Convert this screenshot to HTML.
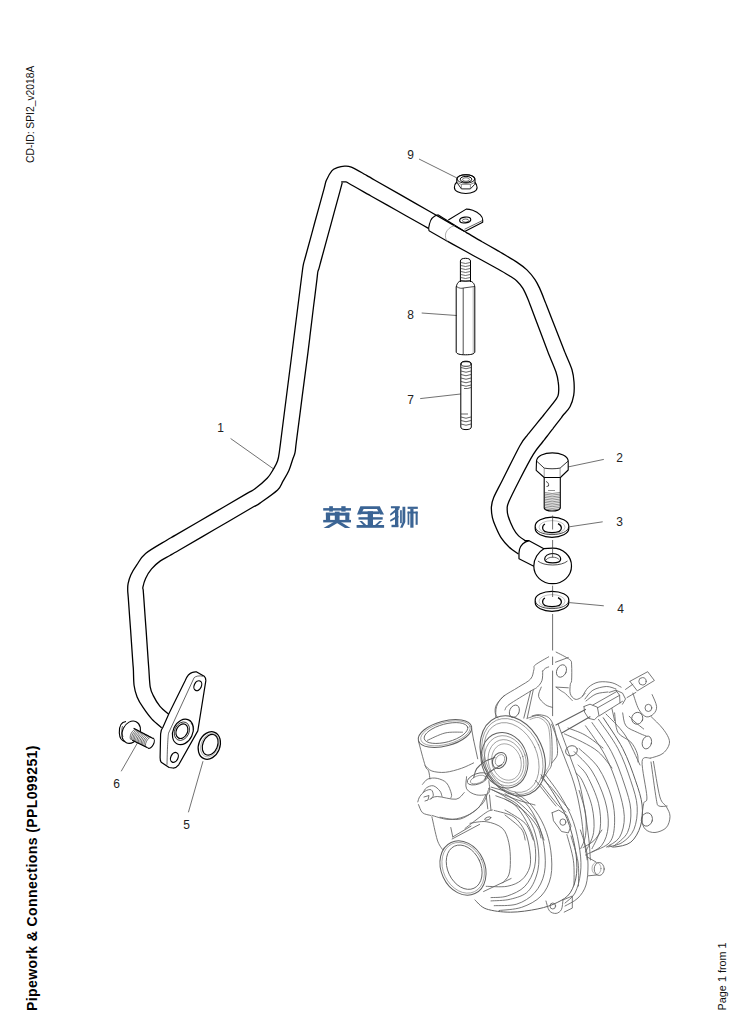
<!DOCTYPE html>
<html><head><meta charset="utf-8">
<style>
html,body{margin:0;padding:0;background:#fff;width:743px;height:1035px;overflow:hidden}
svg{position:absolute;left:0;top:0}
.t{font-family:"Liberation Sans",sans-serif}
</style></head><body>
<svg width="743" height="1035" viewBox="0 0 743 1035">
<g id="texts" class="t">
<text transform="translate(33.9,163) rotate(-90)" font-size="10.6" fill="#111" textLength="97.4" lengthAdjust="spacingAndGlyphs">CD-ID: SPI2_v2018A</text>
<text transform="translate(37.4,1011) rotate(-90)" font-size="14" font-weight="bold" fill="#000" textLength="265.5" lengthAdjust="spacing">Pipework &amp; Connections (PPL099251)</text>
<text transform="translate(725.9,1010.4) rotate(-90)" font-size="10.8" fill="#111" textLength="68" lengthAdjust="spacing">Page 1 from 1</text>
</g>
<g id="watermark" fill="#3b6494">
<rect x="323.2" y="508.1" width="27.8" height="2.5"/>
<rect x="329.2" y="506.2" width="3.7" height="5.4"/>
<rect x="341.3" y="506.2" width="4.3" height="5.4"/>
<rect x="325.9" y="512.7" width="23.4" height="2.9"/>
<rect x="325.9" y="512.7" width="4.2" height="8"/>
<rect x="345.3" y="512.7" width="4" height="8"/>
<rect x="334.8" y="511.6" width="4.8" height="10.5"/>
<rect x="323.2" y="519.9" width="27.8" height="2.5"/>
<polygon points="334.5,521.5 340,521.5 329,528 323.5,528"/>
<polygon points="334.5,521.5 340,521.5 350.5,528 345,528"/>
<polygon points="360.4,506.2 379.8,506.2 381,509 359.2,509"/>
<polygon points="359.2,509 363.6,509 361,514.5 357,514.5"/>
<polygon points="377,509 381,509 384,514.5 380,514.5"/>
<rect x="361" y="511.4" width="18.5" height="2.7"/>
<rect x="358.5" y="517.2" width="24.2" height="2.4"/>
<rect x="367.7" y="511.3" width="5.3" height="14"/>
<polygon points="359.3,521 362,521 366.5,525.2 363.5,525.2"/>
<polygon points="379.5,521 382.2,521 377.5,525.2 374.8,525.2"/>
<rect x="356.6" y="525" width="27.5" height="2.8"/>
<polygon points="390.9,506.2 399.8,506.2 399.8,508.3 390.9,508.3"/>
<polygon points="397.5,507.5 399.5,509 390.5,515.8 390,514"/>
<polygon points="397.5,515.5 399,517 390.5,521.8 390,520"/>
<rect x="395" y="508" width="3.3" height="19"/>
<rect x="391.5" y="524.8" width="6.8" height="2.4"/>
<rect x="400.1" y="510.2" width="1.7" height="13"/>
<polygon points="402.5,506.7 405.3,506.7 405.3,522 402.5,527.8 400.1,527.8 402.5,522"/>
<rect x="407.6" y="506.7" width="10.2" height="2.2"/>
<rect x="407.6" y="511.6" width="10" height="1.9"/>
<rect x="407.6" y="511.6" width="1.7" height="13.2"/>
<rect x="415.6" y="511.6" width="2.1" height="13.2"/>
<rect x="410.3" y="508.9" width="3.2" height="18.8"/>
</g>
<g id="labels" class="t" font-size="12" fill="#222" transform="translate(1.3 0.5)">
<text x="406" y="158">9</text>
<text x="406" y="318">8</text>
<text x="406" y="403">7</text>
<text x="216" y="431">1</text>
<text x="615" y="461">2</text>
<text x="615" y="525">3</text>
<text x="616" y="612">4</text>
<text x="182" y="828">5</text>
<text x="112" y="787">6</text>
</g>
<g id="leaders" stroke="#333" stroke-width="0.7" fill="none">
<path d="M419,159 L457,178"/>
<path d="M421.7,313 L456.7,315.5"/>
<path d="M420.2,398.6 L460.6,394"/>
<path d="M230.6,438.5 L273.1,468.6"/>
<path d="M568.3,466.9 L603.8,459.4"/>
<path d="M569.4,526.8 L602.7,521.8"/>
<path d="M569.4,602.6 L603.8,605.8"/>
<path d="M203,761.2 L188.4,812.3"/>
<path d="M137.4,743 L121.2,771.3"/>
</g>
<g id="pipe" stroke="#000" stroke-width="1.3" fill="none" stroke-linejoin="round">
<path d="M161.7,727.7 C160.1,726.3 155.0,722.4 151.9,719.1 C148.8,715.8 145.7,711.4 143.2,707.7 C140.7,704.0 138.6,700.6 137.1,696.9 C135.6,693.2 134.7,690.0 134.1,685.5 C133.5,681.0 133.6,673.9 133.4,670.0 C133.2,666.1 133.3,668.7 132.8,662.0 C132.4,655.3 131.3,640.7 130.6,630.0 C129.8,619.3 128.7,604.7 128.3,598.0 C127.8,591.3 127.7,592.4 127.7,590.0 C127.7,587.6 127.6,586.2 128.1,583.7 C128.6,581.2 129.4,578.1 130.8,575.0 C132.2,571.9 134.3,568.5 136.8,564.9 C139.3,561.3 140.6,557.6 145.6,553.5 C150.6,549.4 162.1,543.1 167.1,540.0 C172.1,536.9 168.6,539.1 175.9,534.9 C183.2,530.6 199.3,521.2 211.1,514.4 C222.8,507.6 238.9,498.2 246.2,493.9 C253.5,489.7 251.5,491.5 255.0,488.8 C258.5,486.1 264.3,481.2 267.4,478.0 C270.4,474.8 271.6,472.3 273.3,469.4 C275.0,466.5 276.6,464.0 277.6,460.8 C278.7,457.6 278.9,454.8 279.6,450.0 C280.3,445.2 280.0,447.0 281.9,432.0 C283.8,417.0 288.0,384.0 291.1,360.0 C294.1,336.0 298.3,303.0 300.2,288.0 C302.1,273.0 302.0,274.0 302.5,270.0 C303.0,266.0 303.0,266.3 303.5,263.9 C304.0,261.5 303.9,262.5 305.8,255.5 C307.7,248.6 311.9,233.2 314.9,222.0 C318.0,210.9 322.2,195.5 324.1,188.6 C326.0,181.6 325.1,183.2 326.4,180.2 C327.7,177.2 330.0,172.9 331.8,170.8 C333.6,168.7 335.1,168.5 337.2,167.7 C339.3,166.9 342.2,166.2 344.6,166.1 C347.0,166.0 347.9,165.7 351.3,167.1 C354.7,168.5 361.1,172.3 365.0,174.5 C368.9,176.7 366.7,175.4 374.9,180.2 C383.2,184.9 401.4,195.3 414.6,202.9 C427.9,210.5 446.1,220.9 454.4,225.6 C462.6,230.4 462.1,230.0 464.3,231.3 C466.6,232.6 464.9,231.6 467.9,233.4 C470.8,235.1 477.4,238.9 482.1,241.7 C486.9,244.4 493.5,248.2 496.4,249.9 C499.4,251.7 496.6,250.0 500.0,252.0 C503.4,254.0 512.3,259.1 516.8,262.1 C521.3,265.1 523.9,267.0 526.9,269.9 C529.9,272.8 532.9,276.5 535.0,279.6 C537.1,282.7 538.1,285.0 539.7,288.4 C541.3,291.8 543.3,297.1 544.4,300.0 C545.5,302.9 544.8,300.9 546.6,305.5 C548.4,310.1 552.3,320.2 555.2,327.5 C558.1,334.8 562.0,344.9 563.8,349.5 C565.6,354.1 564.6,351.6 566.0,355.0 C567.4,358.4 570.7,365.3 572.0,369.8 C573.3,374.3 573.7,377.6 574.0,381.9 C574.3,386.2 574.4,391.2 573.7,395.4 C573.0,399.5 571.7,403.5 570.0,406.8 C568.3,410.1 564.8,413.2 563.3,415.0 C561.8,416.8 562.9,415.5 561.2,417.8 C559.4,420.0 555.6,425.1 552.8,428.8 C549.9,432.4 546.1,437.5 544.3,439.8 C542.6,442.0 544.0,440.1 542.2,442.5 C540.4,444.9 537.1,448.1 533.3,454.4 C529.5,460.6 523.6,472.0 519.5,480.0 C515.4,488.0 510.7,497.4 508.6,502.2 C506.6,507.0 507.3,506.5 507.2,508.9 C507.1,511.2 507.2,513.0 508.2,516.3 C509.2,519.6 511.6,525.2 513.3,528.5 C515.0,531.8 516.5,533.8 518.6,535.9 C520.7,538.0 524.8,540.3 526.0,541.2"/>
<path d="M168.7,714.1 C167.2,712.8 162.6,709.4 160.0,706.3 C157.4,703.2 154.9,698.9 153.3,695.6 C151.7,692.4 150.9,691.1 150.2,686.8 C149.5,682.5 149.2,674.1 148.9,670.0 C148.6,665.9 148.8,668.7 148.3,662.0 C147.9,655.3 146.8,640.7 146.1,630.0 C145.3,619.3 144.2,604.7 143.8,598.0 C143.3,591.3 143.3,591.8 143.2,590.0 C143.1,588.2 142.5,589.0 142.9,587.1 C143.3,585.2 144.2,581.4 145.6,578.4 C147.0,575.4 149.1,571.8 151.6,568.9 C154.1,566.0 157.3,563.1 160.4,560.9 C163.5,558.7 166.9,557.3 170.0,555.5 C173.1,553.7 171.5,554.6 179.0,550.3 C186.5,545.9 203.0,536.3 215.0,529.3 C227.0,522.3 243.5,512.7 251.0,508.3 C258.5,504.0 255.6,506.2 260.0,503.1 C264.4,500.0 273.8,493.6 277.6,490.0 C281.4,486.4 281.1,484.4 283.0,481.2 C284.9,477.9 287.3,474.2 288.9,470.5 C290.5,466.8 291.7,462.2 292.7,459.2 C293.7,456.2 294.4,455.7 295.0,452.7 C295.6,449.7 295.2,450.8 296.4,441.4 C297.7,432.0 300.3,411.4 302.2,396.4 C304.2,381.3 306.8,360.7 308.1,351.3 C309.3,341.9 309.1,343.0 309.5,340.0 C309.9,337.0 309.6,338.9 310.3,333.2 C311.0,327.5 312.5,315.1 313.6,306.0 C314.8,296.9 316.3,284.5 317.0,278.8 C317.7,273.1 317.5,273.7 317.8,272.0 C318.1,270.3 318.3,270.6 318.9,268.6 C319.5,266.6 319.3,267.2 321.2,260.0 C323.2,252.8 327.5,237.0 330.6,225.6 C333.7,214.1 338.0,198.3 340.0,191.1 C341.9,183.9 341.9,183.9 342.3,182.5"/>
<path d="M341.2,181.9 C341.9,181.9 344.1,181.7 345.3,181.9 C346.5,182.1 345.3,181.4 348.6,183.2 C351.9,185.0 361.2,190.4 365.0,192.6 C368.8,194.8 366.1,193.2 371.4,196.2 C376.6,199.2 388.3,205.7 396.8,210.5 C405.2,215.3 416.9,221.8 422.1,224.8 C427.4,227.8 427.4,227.8 428.5,228.4"/>
<path d="M447.3,241.2 C448.2,241.7 448.2,241.7 452.6,244.1 C457.0,246.5 466.6,251.8 473.6,255.7 C480.7,259.6 490.3,264.9 494.7,267.3 C499.1,269.7 497.4,268.7 500.0,270.2 C502.6,271.7 507.3,274.4 510.1,276.2 C512.9,278.0 514.7,279.0 516.8,281.0 C518.9,283.0 521.0,285.2 522.9,288.4 C524.8,291.6 527.1,297.1 528.3,300.0 C529.5,302.9 528.6,300.9 530.4,305.5 C532.1,310.1 535.9,320.2 538.7,327.5 C541.5,334.8 545.3,344.9 547.0,349.5 C548.8,354.1 547.6,351.3 549.1,355.0 C550.6,358.7 554.4,367.3 555.9,371.8 C557.4,376.3 557.8,378.5 558.2,381.9 C558.7,385.3 558.9,389.2 558.6,392.0 C558.3,394.8 559.0,394.9 556.5,398.7 C554.0,402.5 546.1,411.9 543.7,415.0 C541.3,418.1 543.4,415.3 542.1,417.0 C540.7,418.7 537.7,422.4 535.5,425.1 C533.4,427.7 530.4,431.4 529.0,433.1 C527.7,434.8 528.9,433.0 527.4,435.1 C525.9,437.2 524.1,438.0 520.0,445.5 C515.9,453.0 506.9,471.3 502.5,480.0 C498.1,488.7 495.6,493.0 493.7,497.5 C491.8,502.0 491.6,503.5 491.4,506.9 C491.2,510.3 491.7,514.3 492.4,517.7 C493.1,521.1 494.3,523.7 495.8,527.1 C497.3,530.5 499.0,534.6 501.2,537.9 C503.4,541.2 506.1,544.3 509.0,547.0 C511.9,549.7 516.8,552.9 518.4,554.1"/>
</g>
<g id="clamp" stroke="#000" stroke-width="1.1" fill="none" stroke-linejoin="round">
<path d="M437.9,214.8 L464.3,231.3"/>
<path d="M429,230.8 L447.3,241.2"/>
<path d="M437.9,214.8 C433,216 430.4,220 429.5,224 C428.5,227 428.5,229 429,230.8"/>
<path d="M454.9,225.6 C450,226.5 447,230 445.8,233 C445,236 445.5,239 447.3,241.2" stroke="#777" stroke-width="0.6"/>
<path d="M448.3,220 L466.2,209.1 C469,209 476,210.5 480.3,214.8 C482,216.5 482.7,218.5 482.7,220 L482.7,222.3 L465.2,231.3"/>
<path d="M464.5,229.3 L482.5,220.5" stroke-width="0.6"/>
<ellipse cx="465.2" cy="220" rx="5.6" ry="2.9" transform="rotate(-8 465.2 220)"/>
<ellipse cx="465.6" cy="220.6" rx="3.2" ry="1.6" stroke-width="0.6"/>
</g>
<g id="nut9" stroke="#000" stroke-width="1.1" fill="none">
<path d="M456.8,182 C454.5,184 454.4,186 454.4,187.5 C454.4,191 459,193.5 465.8,193.5 C472.5,193.5 477.1,191 477.1,187.5 C477.1,185.5 476.5,184 475,182.5"/>
<path d="M456.8,183.2 L456.8,178.9 C457.5,176 461,174.7 465.8,174.7 C470.5,174.7 474.2,176 475,178.9 L475,184.4"/>
<path d="M457.4,183.2 L461.4,188.9 L470.4,188.9 L474.7,184.4" stroke-width="0.9"/>
<path d="M457,182.5 L461.4,184.4 L470.4,184.4 L474.7,182.5 M461.4,184.4 L461.4,188.9 M470.4,184.4 L470.4,188.9" stroke-width="0.6" stroke="#444"/>
<ellipse cx="465.9" cy="178.9" rx="8.8" ry="4.2" stroke-width="0.9"/>
<ellipse cx="466" cy="179.3" rx="5.75" ry="3" stroke-width="1"/>
<ellipse cx="466" cy="179.5" rx="3.4" ry="1.8" stroke-width="0.7" stroke="#333"/>
</g>
<g id="stud8" stroke="#000" stroke-width="1" fill="none">
<path d="M460.4,282 L460.4,261 C460.4,259 463,258.3 465.5,258.3 C468,258.3 470.5,259 470.5,261 L470.5,282"/>
<path d="M460.8,262.5 Q465.5,264.5 470.2,262.5 M460.8,265.5 Q465.5,267.5 470.2,265.5 M460.8,268.5 Q465.5,270.5 470.2,268.5 M460.8,271.5 Q465.5,273.5 470.2,271.5 M460.8,274.5 Q465.5,276.5 470.2,274.5 M460.8,277.5 Q465.5,279.5 470.2,277.5 M460.8,280.5 Q465.5,282.5 470.2,280.5" stroke-width="0.7" stroke="#333"/>
<path d="M456.2,287 C457,283 459,281 461,281 L470,281 C472,281.5 474.5,283 474.8,287 L474.8,352 C474.5,354 471,354.8 465.5,354.8 C460,354.8 456.5,354 456.2,352 Z"/>
<path d="M456.5,286.5 C459,288.5 462,288.5 463.2,288 L474.5,286.5" stroke-width="0.7"/>
<path d="M463.2,288 L463.2,354.5" stroke-width="0.7"/>
<path d="M473.2,287 L473.2,353" stroke-width="0.5" stroke="#666"/>
</g>
<g id="stud7" stroke="#000" stroke-width="1" fill="none">
<path d="M460.8,364 C460.8,362 463,361.2 466,361.2 C469,361.2 471.3,362 471.3,364 L471.3,427 C471.3,428.8 469,429.6 466,429.6 C463,429.6 460.8,428.8 460.8,427 Z"/>
<ellipse cx="466" cy="364" rx="5" ry="2.3" stroke-width="0.8"/>
<path d="M461,367.5 Q466,370 471,367.5 M461,371 Q466,373.5 471,371 M461,374.5 Q466,377 471,374.5 M461,378 Q466,380.5 471,378 M461,381.5 Q466,384 471,381.5 M461,385 Q466,387.5 471,385 M464,388.5 Q468,389 471,387.5 M461,414 L468,414 M461,417 Q466,419.5 471,417 M461,420.5 Q466,423 471,420.5 M461,424 Q466,426.5 471,424" stroke-width="0.7" stroke="#222"/>
</g>
<g id="turbo" stroke="#606060" stroke-width="0.85" fill="none" stroke-linejoin="round" stroke-linecap="round">
<path d="M495.7,717.0 C495.9,715.2 495.4,709.8 496.6,706.5 C497.8,703.2 499.1,700.2 502.7,697.0 C506.3,693.8 513.9,690.1 518.5,687.1 C523.1,684.1 528.0,681.9 530.6,679.0 C533.2,676.1 533.1,672.0 533.9,669.6 C534.7,667.2 532.8,667.0 535.3,664.9 C537.8,662.8 546.5,658.1 548.7,656.8"/>
<path d="M556.1,652.1 C558.4,653.3 567.0,657.4 569.6,659.5 C572.2,661.6 571.3,661.4 571.6,664.9 C571.9,668.4 571.8,677.1 571.6,680.4 C571.4,683.6 570.5,682.2 570.3,684.4 C570.1,686.6 569.5,691.3 570.3,693.8 C571.1,696.3 573.3,698.5 575.0,699.2 C576.7,699.9 578.7,698.9 580.4,697.9 C582.1,696.9 584.2,694.2 585.0,693.5"/>
<path d="M542.7,671.0 C543.2,670.5 544.4,669.0 545.4,668.3 C546.4,667.6 548.2,667.1 548.7,666.9"/>
<path d="M555.5,662.2 L568.3,657.5"/>
<path d="M542.7,671.0 C542.6,672.6 542.9,677.7 542.0,680.4 C541.1,683.1 539.2,685.3 537.3,687.1 C535.4,688.9 535.3,688.2 530.6,691.1 C525.9,694.0 513.3,701.5 509.0,704.6 C504.7,707.8 505.7,709.1 505.0,710.0"/>
<path d="M530.6,691.1 L523.8,718.1"/>
<path d="M533.3,689.8 L527.2,718.1"/>
<path d="M541.3,687.1 C540.8,688.7 537.9,693.6 538.6,696.5 C539.3,699.4 543.1,702.8 545.4,704.6 C547.6,706.4 551.0,706.8 552.1,707.3"/>
<path d="M556.1,687.1 C557.0,687.8 559.9,690.0 561.5,691.1 C563.1,692.2 563.8,692.2 565.6,693.8 C567.4,695.4 571.2,699.5 572.3,700.6"/>
<path d="M556.1,687.1 L568.3,687.8"/>
<path d="M504.6,695.2 C503.2,696.8 498.1,701.7 496.5,704.6 C494.9,707.5 495.0,710.5 495.2,712.7 C495.4,714.9 497.4,717.1 497.9,718.0"/>
<path d="M532.0,716.0 C533.2,715.8 536.4,714.4 539.2,714.7 C542.0,715.0 546.3,715.6 548.8,717.6 C551.3,719.6 552.7,723.5 554.0,727.0 C555.3,730.5 555.9,734.4 556.5,738.8 C557.1,743.2 557.8,749.9 557.5,753.3 C557.2,756.7 556.0,757.4 555.0,759.0 C554.0,760.6 552.2,762.3 551.7,763.0"/>
<path d="M527.0,718.5 C527.4,718.4 527.5,718.1 529.5,717.6 C531.5,717.1 536.0,714.8 539.2,715.6 C542.4,716.4 546.7,718.9 548.8,722.4 C550.9,725.9 551.2,730.1 551.7,736.9 C552.2,743.7 552.3,757.3 551.7,763.0 C551.1,768.7 549.3,768.6 548.0,771.0 C546.7,773.4 544.7,776.4 544.0,777.5"/>
<path d="M530.0,719.5 C531.4,719.2 535.7,716.8 538.5,717.5 C541.3,718.2 545.1,720.8 547.0,724.0 C548.9,727.2 549.3,730.7 549.8,737.0 C550.3,743.3 550.4,756.3 549.8,762.0 C549.2,767.7 547.4,768.2 546.0,771.0 C544.6,773.8 542.2,777.2 541.5,778.5" stroke-width="0.55"/>
<path d="M488.5,788.4 C493.0,790.2 507.6,796.4 515.4,799.2 C523.1,802.0 531.7,804.0 535.0,805.0"/>
<path d="M535.6,780.4 C538.1,783.5 547.0,794.9 550.4,799.2 C553.8,803.5 555.1,804.9 556.0,806.0"/>
<path d="M555.9,725.0 L585.5,709.4" stroke-width="1.1"/>
<path d="M561.8,733.1 L590.0,716.8" stroke-width="1.1"/>
<path d="M584.0,706.5 L590.0,704.2 L597.4,707.2 L598.9,715.3 L594.4,719.8 L588.5,718.3 L584.5,712.0 L584.0,706.5"/>
<path d="M592.9,705.0 L616.6,691.6"/>
<path d="M598.9,716.1 L622.5,701.3"/>
<path d="M597.4,707.9 L619.6,695.3"/>
<path d="M609.2,692.4 L615.9,690.2 L622.5,693.1 L625.5,699.0 L622.5,704.2"/>
<path d="M615.9,690.2 L619.6,695.3 L620.0,703.0"/>
<path d="M625.5,689.4 L632.9,684.2"/>
<path d="M627.0,697.6 L635.9,692.4"/>
<path d="M629.9,681.3 L647.7,671.7 L654.4,680.5 L637.3,690.9 L629.9,681.3"/>
<path d="M632.9,693.1 C633.9,695.8 636.6,705.5 638.8,709.4 C641.0,713.3 643.7,716.0 646.2,716.8 C648.7,717.5 651.9,715.6 653.6,713.9 C655.3,712.2 656.9,709.7 656.6,706.5 C656.4,703.3 652.9,696.6 652.1,694.6"/>
<path d="M582.6,696.1 C583.6,694.6 585.8,689.6 588.5,687.2 C591.2,684.9 594.9,682.7 598.9,682.0 C602.9,681.3 608.5,681.9 612.2,682.8 C615.9,683.7 619.6,686.5 621.1,687.2"/>
<path d="M585.0,699.0 C586.3,697.5 589.4,692.3 592.9,690.2 C596.4,688.1 602.4,686.7 606.3,686.5 C610.1,686.3 614.4,688.6 616.0,689.0"/>
<path d="M586.0,701.0 C587.7,699.8 592.3,695.5 596.0,694.0 C599.7,692.5 606.0,692.3 608.0,692.0"/>
<path d="M651.0,716.5 C653.0,718.6 660.0,724.8 663.1,729.0 C666.2,733.2 669.5,738.0 669.5,742.0 C669.5,746.0 666.3,750.6 663.1,753.3 C659.9,756.0 652.4,757.4 650.2,758.2"/>
<path d="M653.4,761.4 C654.5,767.3 657.8,789.4 659.9,796.9 C662.0,804.4 664.6,803.4 666.3,806.6 C668.0,809.8 670.0,812.8 670.0,816.3 C670.0,819.8 668.8,824.9 666.3,827.6 C663.8,830.3 658.5,832.2 655.0,832.5 C651.5,832.8 647.4,831.4 645.3,829.2 C643.1,827.0 642.4,823.8 642.1,819.5 C641.8,815.2 642.9,807.2 643.7,803.4 C644.5,799.6 647.2,803.9 646.9,796.9 C646.6,789.9 641.5,767.8 642.1,761.4 C642.7,755.0 648.9,758.7 650.2,758.2"/>
<path d="M651.0,762.0 C651.9,768.2 655.0,791.9 656.3,799.2 C657.6,806.5 657.2,804.9 659.0,806.0 C660.8,807.1 665.8,806.0 667.1,806.0"/>
<path d="M614.6,712.9 C615.1,716.1 615.2,727.4 617.9,732.3 C620.6,737.1 627.6,738.5 630.8,742.0 C634.0,745.5 636.0,750.0 637.2,753.3 C638.4,756.6 637.9,760.5 638.0,762.0"/>
<path d="M622.7,712.9 C623.2,715.0 623.5,722.6 625.9,725.8 C628.3,729.0 633.9,730.6 637.2,732.3 C640.6,734.0 644.5,735.4 646.0,736.0"/>
<path d="M629.2,716.2 C630.2,717.2 632.6,719.9 635.0,722.0 C637.4,724.1 642.2,727.8 643.7,729.0"/>
<path d="M611.9,708.5 L614.6,720.6"/>
<path d="M603.3,717.8 C606.5,722.9 617.3,738.0 622.7,748.5 C628.1,759.0 632.4,771.4 635.6,780.8 C638.8,790.2 641.3,797.5 642.1,805.0 C642.9,812.5 642.4,819.8 640.5,826.0 C638.6,832.2 635.1,838.7 630.8,842.2 C626.5,845.7 618.1,846.5 614.6,847.0 C611.1,847.5 610.6,845.7 609.8,845.4" stroke-width="1.0"/>
<path d="M598.5,719.4 C601.7,724.2 612.5,738.3 617.9,748.5 C623.3,758.7 627.6,771.1 630.8,780.8 C634.0,790.5 636.7,798.5 637.2,806.6 C637.7,814.7 636.4,823.3 634.0,829.2 C631.6,835.1 627.0,839.2 622.7,842.2 C618.4,845.2 610.5,846.2 608.0,847.0"/>
<path d="M592.0,722.6 C595.2,727.5 606.0,741.5 611.4,751.7 C616.8,761.9 621.1,774.3 624.3,784.0 C627.5,793.7 630.3,801.8 630.8,809.9 C631.3,818.0 630.3,826.5 627.5,832.5 C624.7,838.5 616.2,843.8 614.0,846.0"/>
<path d="M585.5,725.8 C588.7,730.6 599.5,744.7 604.9,754.9 C610.3,765.1 614.7,777.0 617.9,787.2 C621.1,797.4 624.0,807.9 624.3,816.3 C624.6,824.6 622.5,832.2 619.5,837.3 C616.5,842.4 608.7,845.4 606.5,847.0"/>
<path d="M579.1,748.5 C582.3,751.7 593.1,759.8 598.5,767.9 C603.9,776.0 608.7,787.8 611.4,796.9 C614.1,806.0 614.9,815.2 614.6,822.8 C614.3,830.3 613.6,837.4 609.8,842.2 C606.0,847.1 595.0,850.3 592.0,851.9"/>
<path d="M574.2,751.7 C577.2,754.9 586.9,763.0 592.0,771.1 C597.1,779.2 602.2,791.1 604.9,800.2 C607.6,809.4 608.7,818.5 608.2,826.0 C607.7,833.5 605.5,840.6 601.7,845.4 C597.9,850.2 588.2,853.4 585.5,855.0"/>
<path d="M578.0,765.0 C579.5,766.8 583.8,769.5 587.2,775.9 C590.6,782.3 596.4,794.5 598.5,803.4 C600.6,812.3 601.2,821.7 600.1,829.2 C599.0,836.7 593.4,845.4 592.0,848.6"/>
<path d="M576.0,773.0 C577.0,774.3 579.6,775.2 582.3,780.8 C585.0,786.4 590.1,798.0 592.0,806.6 C593.9,815.2 594.7,825.0 593.6,832.5 C592.5,840.0 586.9,848.7 585.5,851.9"/>
<path d="M579.1,790.5 C580.2,794.3 584.4,805.6 585.5,813.1 C586.6,820.6 586.3,829.8 585.5,835.7 C584.7,841.6 581.5,846.5 580.7,848.6"/>
<path d="M564.5,733.9 C567.5,735.2 576.6,739.0 582.3,742.0 C588.0,745.0 593.5,747.7 598.5,752.0 C603.5,756.3 609.8,765.3 612.0,768.0"/>
<path d="M568.0,728.0 C570.8,729.2 579.2,731.7 585.0,735.0 C590.8,738.3 600.0,745.8 603.0,748.0"/>
<path d="M606.0,714.0 C609.2,717.5 619.3,726.5 625.0,735.0 C630.7,743.5 637.5,760.0 640.0,765.0"/>
<path d="M583.1,847.5 C584.9,846.4 590.7,843.7 593.8,840.8 C596.9,837.9 600.5,831.8 601.9,830.0"/>
<path d="M551.6,724.2 C553.5,729.1 559.1,743.3 562.9,753.3 C566.7,763.3 571.2,774.0 574.2,784.0 C577.2,794.0 579.1,804.0 580.7,813.1 C582.3,822.2 582.8,831.1 583.9,838.9 C585.0,846.7 586.7,856.5 587.2,860.0"/>
<path d="M558.1,724.2 C560.0,729.3 565.9,745.2 569.4,754.9 C572.9,764.6 576.5,773.2 579.1,782.4 C581.7,791.6 583.1,800.5 584.7,809.9 C586.3,819.3 587.8,830.5 588.8,838.9 C589.8,847.2 590.1,856.5 590.4,860.0"/>
<path d="M552.1,812.7 L558.8,810.0 L566.9,815.4 L571.0,826.1 L568.3,832.9 L561.5,831.5 L553.5,820.8 L552.1,812.7"/>
<path d="M541.3,777.7 C543.1,779.5 548.7,784.7 552.1,788.5 C555.5,792.3 558.6,797.0 561.5,800.6 C564.4,804.2 568.2,808.4 569.6,810.0"/>
<path d="M541.3,784.4 C544.0,787.8 553.4,800.0 557.5,804.6 C561.6,809.2 564.6,810.8 566.0,812.0"/>
<path d="M505.0,793.8 C507.7,795.6 516.0,800.1 521.2,804.6 C526.4,809.1 532.2,814.9 536.0,820.8 C539.8,826.7 542.7,836.8 544.0,840.0"/>
<path d="M505.0,799.2 C508.0,801.0 517.7,805.5 523.0,810.0 C528.3,814.5 534.0,821.3 537.0,826.0 C540.0,830.7 540.3,836.0 541.0,838.0"/>
<path d="M505.0,810.0 C508.4,812.2 520.5,818.4 525.2,823.4 C529.9,828.4 531.9,837.2 533.3,840.0"/>
<path d="M505.0,815.0 C507.7,817.3 517.8,824.6 521.2,828.8 C524.6,833.0 524.5,838.1 525.2,840.0"/>
<path d="M494.2,810.4 C497.4,811.5 508.5,813.3 513.6,816.8 C518.7,820.3 522.2,825.7 524.9,831.4 C527.6,837.1 529.0,844.9 529.8,850.8 C530.6,856.7 531.1,862.0 529.8,866.9 C528.4,871.8 525.5,876.7 521.7,879.9 C517.9,883.1 513.1,885.2 507.2,886.3 C501.3,887.4 489.7,886.3 486.2,886.3"/>
<path d="M495.8,795.8 C498.8,797.1 508.5,799.6 513.6,803.9 C518.7,808.2 523.0,815.2 526.5,821.7 C530.0,828.2 533.2,835.2 534.6,842.7 C536.0,850.2 536.2,859.6 534.6,866.9 C533.0,874.2 529.5,881.4 524.9,886.3 C520.3,891.1 512.9,894.1 507.2,896.0 C501.6,897.9 493.7,897.3 491.0,897.6"/>
<path d="M505.0,797.0 C507.2,798.4 514.1,801.1 518.5,805.5 C522.9,809.9 528.2,816.6 531.4,823.3 C534.6,830.0 536.8,838.1 537.9,845.9 C539.0,853.7 539.5,862.7 537.9,870.2 C536.3,877.8 532.8,886.4 528.2,891.2 C523.6,896.0 516.6,897.6 510.4,899.2 C504.2,900.8 494.2,900.6 491.0,900.9"/>
<path d="M502.3,789.4 C506.1,791.5 519.0,796.6 524.9,802.3 C530.8,807.9 534.7,815.8 537.9,823.3 C541.1,830.8 543.2,839.1 544.3,847.5 C545.4,855.9 545.9,865.9 544.3,873.4 C542.7,880.9 539.2,887.7 534.6,892.8 C530.0,897.9 523.5,902.0 516.8,904.1 C510.1,906.2 498.0,905.4 494.2,905.7"/>
<path d="M515.0,792.0 C517.7,794.2 526.5,799.8 531.4,805.5 C536.3,811.2 541.1,819.0 544.3,826.5 C547.5,834.0 549.7,842.4 550.8,850.8 C551.9,859.1 552.4,869.1 550.8,876.6 C549.2,884.1 546.0,890.9 541.1,896.0 C536.2,901.1 528.7,904.9 521.7,907.3 C514.7,909.7 502.9,910.0 499.1,910.5"/>
<path d="M541.1,774.8 C543.2,778.0 549.7,786.9 554.0,794.2 C558.3,801.5 563.4,809.6 566.9,818.5 C570.4,827.4 573.4,838.4 575.0,847.5 C576.6,856.6 577.4,865.9 576.6,873.4 C575.8,880.9 573.4,887.9 570.2,892.8 C567.0,897.6 562.6,899.8 557.2,902.5 C551.8,905.2 545.7,907.3 537.9,908.9 C530.1,910.5 519.0,912.2 510.4,912.2 C501.8,912.2 492.1,910.9 486.2,908.9 C480.3,906.9 476.9,901.5 475.0,900.0" stroke-width="1.0"/>
<path d="M544.3,773.2 C547.0,777.0 555.6,787.7 560.5,795.8 C565.4,803.9 570.2,812.5 573.4,821.7 C576.6,830.9 578.7,842.2 579.9,850.8 C581.1,859.3 581.3,866.0 580.5,873.0 C579.7,880.0 577.6,888.0 575.0,893.0 C572.4,898.0 566.7,901.3 565.0,903.0"/>
<path d="M566.9,834.6 C568.0,838.9 572.2,852.1 573.4,860.5 C574.6,868.9 573.9,880.9 574.0,885.0"/>
<path d="M571.0,836.0 C572.2,840.3 576.8,853.7 578.0,862.0 C579.2,870.3 578.4,882.0 578.5,886.0"/>
<path d="M580.4,830.0 C581.3,832.9 584.5,841.7 585.8,847.5 C587.1,853.3 588.0,858.8 588.0,865.0 C588.0,871.2 587.7,879.5 586.0,885.0 C584.3,890.5 581.5,894.5 578.0,898.0 C574.5,901.5 567.2,904.7 565.0,906.0"/>
<path d="M546.0,901.0 C546.6,902.6 547.7,908.7 549.4,910.8 C551.1,912.9 554.1,913.6 556.1,913.4 C558.1,913.2 560.4,911.6 561.5,909.4 C562.6,907.2 562.7,901.6 562.9,900.0"/>
<path d="M562.9,900.0 L572.3,896.0 L572.3,908.1 L564.2,912.1"/>
<path d="M587.1,856.9 L596.0,862.0"/>
<path d="M588.4,875.8 L597.0,875.0"/>
<path d="M486.2,795.8 L487.8,808.8"/>
<path d="M489.5,795.0 L491.0,810.4"/>
<path d="M440.0,817.2 C443.5,817.5 454.0,821.0 461.0,818.8 C468.0,816.6 477.4,809.1 482.0,804.2 C486.6,799.4 487.4,792.1 488.5,789.7"/>
<path d="M465.0,828.5 C468.5,825.9 481.2,815.8 485.8,812.7 C490.4,809.6 491.4,810.5 492.5,810.0"/>
<path d="M452.8,836.9 L471.0,826.1"/>
<path d="M452.1,839.0 L479.6,824.4"/>
<path d="M470.0,823.3 C472.7,823.0 480.8,820.9 486.2,821.7 C491.6,822.5 498.5,824.7 502.3,828.2 C506.1,831.7 507.5,837.3 508.8,842.7 C510.1,848.1 510.4,855.1 510.4,860.5 C510.4,865.9 510.1,871.2 508.8,875.0 C507.5,878.8 503.4,881.8 502.3,883.1"/>
<path d="M483.6,891.5 L511.1,878.5"/>
<path d="M427.5,740.3 C430.4,739.1 439.2,734.4 445.0,733.0 C450.8,731.6 459.6,732.3 462.5,732.2"/>
<path d="M418.5,741.3 C419.6,745.3 423.5,760.6 425.2,765.6 C426.9,770.6 427.8,768.8 428.6,771.0 C429.4,773.2 429.7,777.7 429.9,779.0"/>
<path d="M473.6,740.0 L477.7,758.8"/>
<path d="M471.6,728.8 L473.6,740.0"/>
<path d="M425.2,765.6 C426.3,766.5 428.5,769.9 431.9,771.0 C435.3,772.1 440.5,772.8 445.4,772.3 C450.3,771.8 456.8,769.9 461.5,768.3 C466.2,766.7 471.6,763.8 473.6,762.9"/>
<path d="M422.5,784.4 C423.4,783.5 425.4,780.0 427.9,779.0 C430.4,778.0 434.2,777.7 437.3,778.4 C440.4,779.1 444.4,780.5 446.7,783.1 C449.0,785.7 450.7,791.3 451.4,793.8 C452.1,796.3 450.9,797.2 450.8,797.9"/>
<path d="M423.2,792.5 C423.8,791.7 424.8,788.9 426.5,787.8 C428.2,786.7 431.1,785.2 433.3,785.8 C435.6,786.3 438.6,789.3 440.0,791.1 C441.4,792.9 441.7,795.6 442.0,796.5"/>
<path d="M417.8,801.9 C418.1,801.0 418.6,798.3 419.8,796.5 C421.0,794.7 423.3,792.2 425.2,791.1 C427.1,790.0 429.8,789.1 431.2,789.8 C432.6,790.5 433.3,793.7 433.3,795.2 C433.3,796.7 431.4,798.4 431.0,799.0"/>
<path d="M418.5,804.6 C419.2,806.0 420.5,810.9 422.5,812.7 C424.5,814.5 429.2,815.0 430.6,815.4"/>
<path d="M424.0,797.0 L429.0,795.5 L428.0,800.0 L425.0,801.0"/>
<path d="M429.9,799.2 C431.1,798.8 432.9,796.5 437.3,796.5 C441.7,796.5 451.6,799.9 456.1,799.2 C460.6,798.5 462.9,793.6 464.2,792.5"/>
<path d="M431.9,815.4 C434.6,816.1 442.7,819.2 448.1,819.4 C453.5,819.6 459.3,818.5 464.2,816.7 C469.1,814.9 474.1,812.2 477.7,808.6 C481.3,805.0 484.4,797.4 485.8,795.2"/>
<path d="M431.9,816.7 C432.8,820.6 435.6,834.5 437.3,840.0 C439.1,845.5 441.5,847.8 442.4,849.4"/>
<path d="M450.8,827.5 L452.8,836.9"/>
<path d="M466.6,776.7 C466.6,778.7 464.9,785.8 466.6,788.8 C468.3,791.8 473.0,794.2 476.7,794.9 C480.4,795.6 486.8,795.2 488.8,792.9 C490.8,790.5 488.8,782.8 488.8,780.8"/>
<path d="M473.7,777.7 C474.2,776.2 474.8,771.3 476.7,768.6 C478.6,765.9 481.8,763.5 484.8,761.6 C487.8,759.8 493.2,758.2 494.9,757.5" stroke-width="1.05"/>
<path d="M484.8,779.8 C485.5,778.6 486.8,774.7 488.8,772.7 C490.8,770.7 494.7,769.0 496.9,767.6 C499.1,766.2 501.1,765.1 502.0,764.6" stroke-width="1.05"/>
<path d="M491.1,787.1 L505.0,791.1"/>
<path d="M492.5,789.8 L505.0,796.5"/>
<ellipse cx="561.5" cy="671.0" rx="4.7" ry="6.5" transform="rotate(25 561.5 671.0)"/>
<ellipse cx="514.4" cy="711.3" rx="4.7" ry="6.5" transform="rotate(25 514.4 711.3)"/>
<ellipse cx="512.7" cy="755.9" rx="30.5" ry="41.7" transform="rotate(-24 512.7 755.9)" stroke-width="1.1"/>
<ellipse cx="512.4" cy="756.5" rx="28.6" ry="39.6" transform="rotate(-24 512.4 756.5)" stroke-width="0.55"/>
<ellipse cx="511.5" cy="757.5" rx="25.5" ry="36.5" transform="rotate(-24 511.5 757.5)" stroke-width="0.55"/>
<ellipse cx="504.5" cy="760.3" rx="23.0" ry="28.1" transform="rotate(-16.4 504.5 760.3)" stroke-width="1.0"/>
<ellipse cx="505.3" cy="760.8" rx="20.5" ry="25.5" transform="rotate(-16.4 505.3 760.8)" stroke-width="0.55"/>
<ellipse cx="506.0" cy="761.3" rx="17.5" ry="22.0" transform="rotate(-16.4 506.0 761.3)" stroke-width="0.55"/>
<ellipse cx="506.5" cy="762.0" rx="14.5" ry="18.5" transform="rotate(-16.4 506.5 762.0)" stroke-width="0.5"/>
<ellipse cx="642.5" cy="681.3" rx="3.7" ry="3.7" transform="rotate(0 642.5 681.3)"/>
<ellipse cx="648.4" cy="707.9" rx="3.4" ry="3.6" transform="rotate(0 648.4 707.9)"/>
<ellipse cx="637.3" cy="718.3" rx="5.5" ry="6.0" transform="rotate(20 637.3 718.3)"/>
<ellipse cx="646.9" cy="742.5" rx="4.6" ry="6.5" transform="rotate(15 646.9 742.5)"/>
<ellipse cx="646.9" cy="819.5" rx="5.5" ry="6.7" transform="rotate(15 646.9 819.5)"/>
<ellipse cx="562.9" cy="822.1" rx="3.0" ry="3.2" transform="rotate(0 562.9 822.1)"/>
<ellipse cx="571.5" cy="750.8" rx="6.0" ry="5.0" transform="rotate(-20 571.5 750.8)"/>
<ellipse cx="552.8" cy="906.0" rx="2.8" ry="3.0" transform="rotate(0 552.8 906.0)"/>
<ellipse cx="599.2" cy="869.0" rx="5.0" ry="6.5" transform="rotate(0 599.2 869.0)"/>
<ellipse cx="596.5" cy="868.5" rx="4.5" ry="6.0" transform="rotate(0 596.5 868.5)" stroke-width="0.5"/>
<ellipse cx="487.8" cy="818.5" rx="3.3" ry="1.3" transform="rotate(-20 487.8 818.5)"/>
<ellipse cx="463.0" cy="868.0" rx="21.8" ry="28.2" transform="rotate(-25 463.0 868.0)" stroke-width="1.0"/>
<ellipse cx="463.2" cy="867.8" rx="20.0" ry="26.4" transform="rotate(-25 463.2 867.8)" stroke-width="0.5"/>
<ellipse cx="464.2" cy="867.2" rx="16.6" ry="23.2" transform="rotate(-25 464.2 867.2)"/>
<ellipse cx="445.0" cy="733.5" rx="27.5" ry="12.5" transform="rotate(-15 445.0 733.5)" stroke-width="1.0"/>
<ellipse cx="445.5" cy="733.3" rx="25.5" ry="11.0" transform="rotate(-15 445.5 733.3)" stroke-width="0.5"/>
<ellipse cx="446.0" cy="733.0" rx="22.5" ry="9.0" transform="rotate(-15 446.0 733.0)"/>
<ellipse cx="477.7" cy="778.8" rx="11.0" ry="5.2" transform="rotate(-20 477.7 778.8)"/>
<ellipse cx="478.0" cy="779.5" rx="8.0" ry="3.6" transform="rotate(-20 478.0 779.5)" stroke-width="0.55"/>
<ellipse cx="499.5" cy="760.5" rx="6.5" ry="8.5" transform="rotate(30 499.5 760.5)" stroke-width="1.1"/>
<ellipse cx="500.0" cy="760.2" rx="4.3" ry="6.0" transform="rotate(30 500.0 760.2)" stroke-width="0.55"/>
</g>
<g id="flange" stroke="#000" stroke-width="1.2" fill="none" stroke-linejoin="round">
<path d="M169.1,713.3 L185,680.9 C187,676 190,673 192.5,672.4 C194,671.7 195.5,671.7 196.7,671.9 L204.2,676.2 C205.5,677.5 205.9,679 205.8,680.9 L197.8,730.9 L178.7,764.8 C176.5,767.5 174.5,768.2 172.8,768 L169.1,767.5 L161.2,762.2 C160.3,761 160.1,759.5 160.1,757.4 L160.6,734 C160.8,731 161.5,729 162.7,727.7 Z"/>
<path d="M203.1,676.2 C199,675.5 196,676 194.1,677.7 L168.6,733 C168,736 167.4,745 167,764.8" stroke-width="0.6"/>
<ellipse cx="197.8" cy="685.7" rx="3.6" ry="5.2" transform="rotate(25 197.8 685.7)"/>
<ellipse cx="174.4" cy="757.4" rx="3.6" ry="5.2" transform="rotate(25 174.4 757.4)"/>
<ellipse cx="182.9" cy="731.9" rx="9.8" ry="13.3" transform="rotate(25 182.9 731.9)"/>
<ellipse cx="181.9" cy="731.2" rx="7.2" ry="9.6" transform="rotate(25 181.9 731.2)" stroke-width="0.7"/>
<ellipse cx="181.9" cy="731.2" rx="5.6" ry="7.6" transform="rotate(25 181.9 731.2)"/>
<path d="M191,723 C193,726 194,728 193.5,730" stroke-width="0.6"/>
</g>
<g id="bolt6" stroke="#000" stroke-width="1.1" fill="none" stroke-linejoin="round">
<path d="M126,721.5 C121,722 119,727 119.3,733 C119.6,738 122,741 125,741.6"/>
<path d="M122.5,726 C121.5,729 121.5,733 123,737" stroke-width="0.6"/>
<ellipse cx="131.2" cy="732.2" rx="8.8" ry="11.6" transform="rotate(25 131.2 732.2)"/>
<path d="M133.6,728.2 L153.1,738.6 L147.7,747.7 L132.2,740.3 Z" fill="#fff" stroke="none"/>
<g stroke="#222" stroke-width="0.6"><path d="M0,-5.8 A3,5.8 0 0 0 0,5.8" transform="translate(133.9 734.7) rotate(27)"/><path d="M0,-5.8 A3,5.8 0 0 0 0,5.8" transform="translate(135.3 735.5) rotate(27)"/><path d="M0,-5.8 A3,5.8 0 0 0 0,5.8" transform="translate(136.7 736.2) rotate(27)"/><path d="M0,-5.8 A3,5.8 0 0 0 0,5.8" transform="translate(138.0 736.9) rotate(27)"/><path d="M0,-5.8 A3,5.8 0 0 0 0,5.8" transform="translate(139.4 737.6) rotate(27)"/><path d="M0,-5.8 A3,5.8 0 0 0 0,5.8" transform="translate(140.8 738.3) rotate(27)"/><path d="M0,-5.8 A3,5.8 0 0 0 0,5.8" transform="translate(142.2 739.0) rotate(27)"/><path d="M0,-5.8 A3,5.8 0 0 0 0,5.8" transform="translate(143.6 739.7) rotate(27)"/><path d="M0,-5.8 A3,5.8 0 0 0 0,5.8" transform="translate(145.0 740.4) rotate(27)"/><path d="M0,-5.8 A3,5.8 0 0 0 0,5.8" transform="translate(146.4 741.2) rotate(27)"/><path d="M0,-5.8 A3,5.8 0 0 0 0,5.8" transform="translate(147.8 741.9) rotate(27)"/><path d="M0,-5.8 A3,5.8 0 0 0 0,5.8" transform="translate(149.2 742.6) rotate(27)"/></g>
<path d="M133.6,728.2 L153.1,738.6 M132.2,740.3 L147.7,747.7"/>
<path d="M0,-5.6 A3.3,5.6 0 0 1 0,5.6" transform="translate(150.4 743.1) rotate(27)"/>
</g>
<g id="washer5" stroke="#000" stroke-width="1.2" fill="none">
<ellipse cx="209.3" cy="745.5" rx="10.6" ry="14.2" transform="rotate(22 209.3 745.5)"/>
<ellipse cx="210.2" cy="744.8" rx="7.4" ry="10.8" transform="rotate(22 210.2 744.8)"/>
<ellipse cx="209.7" cy="745.2" rx="8.6" ry="12.2" transform="rotate(22 209.7 745.2)" stroke-width="0.5" stroke="#777"/>
</g>
<g id="bolt2" stroke="#000" stroke-width="1.1" fill="none" stroke-linejoin="round">
<path d="M536.5,461 C537,456 544,452.9 552.3,452.9 C560.5,452.9 567.8,456 568.2,461"/>
<path d="M536.5,461 L536.2,470.3 L544.2,477.5 L560.4,477.5 L568.2,470 L568.2,461"/>
<path d="M536.5,461 L544.2,468.1 C549,469 555,469 560.1,468.1 L568.2,461" stroke-width="0.8"/>
<path d="M544.2,468.1 L544.2,477.5 M560.1,468.1 L560.1,477.5" stroke-width="0.6" stroke="#555"/>
<path d="M544.2,477.5 L544.2,508 C545,510.5 549,511 552,511 C556,511 559.5,510.5 560.3,508 L560.3,477.5"/>
<path d="M546,481.5 C548,482 549,484 548.5,486 M546.5,486.5 L548.5,486" stroke-width="0.7"/>
<path d="M548,490.5 L555,490.5 M544.5,492.5 Q552,494.5 560,492.5 M544.5,494.1 Q552,496.1 560,494.1 M544.5,495.8 Q552,497.8 560,495.8 M544.5,497.4 Q552,499.4 560,497.4 M544.5,499.1 Q552,501.1 560,499.1 M544.5,500.8 Q552,502.8 560,500.8 M544.5,502.4 Q552,504.4 560,502.4 M544.5,504.1 Q552,506.1 560,504.1 M544.5,505.7 Q552,507.7 560,505.7 M544.5,507.4 Q552,509.4 560,507.4 M544.5,509.0 Q552,511.0 560,509.0" stroke-width="0.55" stroke="#333"/>
</g>
<g id="washer3" stroke="#000" stroke-width="1.2" fill="none">
<path d="M535.2,526 C535.2,521 543,517.1 552,517.1 C561,517.1 568.8,521 568.8,526 L568.8,528.5 C568.8,533.5 561,537.3 552,537.3 C543,537.3 535.2,533.5 535.2,528.5 Z"/>
<path d="M535.4,527 C536,531.5 543,534.6 552,534.6 C561,534.6 568,531.5 568.6,527" stroke-width="0.7"/>
<ellipse cx="552" cy="527.2" rx="13" ry="6.6" stroke-width="0.5" stroke="#888"/>
<path d="M545,524 C542.5,525 542.6,527 542.6,528 C542.6,531 546.5,532.6 552,532.6 C557.5,532.6 561.4,531 561.4,528 C561.4,526 560,524.5 558,523.6"/>
</g>
<g id="banjo" stroke="#000" stroke-width="1.2" fill="none" stroke-linejoin="round">
<path d="M524.4,540.7 L529.1,540.7 L543.9,548.7"/>
<path d="M529.1,540.7 C524,542 520.5,546 519.5,549.4 C518.8,552 518.8,556 519,558.8 L533.8,566.2"/>
<path d="M543.9,548.7 C547,548.2 549.5,548.1 552.7,548.1 C563,548.1 571.5,556 571.5,566 C571.5,576 563,583.7 552.7,583.7 C542,583.7 533.8,576 533.8,566 C533.8,559 538,552 543.9,548.7"/>
<path d="M537.9,561 C541,563.5 546,565 552.7,565 C559,565 564.5,563.5 567.5,561" stroke-width="0.7"/>
<path d="M544.7,559 C544.7,556 548,553.5 552.7,553.5 C557.4,553.5 560.7,556 560.7,559 C560.7,561.5 557.4,562.9 552.7,562.9 C548,562.9 544.7,561.5 544.7,559 Z"/>
<path d="M546,560 C547.5,558 550,557.2 552.7,557.2 C555.4,557.2 558,558 559.5,560" stroke-width="0.6"/>
</g>
<g id="washer4" stroke="#000" stroke-width="1.2" fill="none">
<path d="M535.2,600 C535.2,595 543,591.3 552,591.3 C561,591.3 568.8,595 568.8,600 L568.8,602.5 C568.8,607.5 561,611.3 552,611.3 C543,611.3 535.2,607.5 535.2,602.5 Z"/>
<path d="M535.4,601 C536,605.5 543,608.6 552,608.6 C561,608.6 568,605.5 568.6,601" stroke-width="0.7"/>
<ellipse cx="552" cy="601.2" rx="13" ry="6.6" stroke-width="0.5" stroke="#888"/>
<path d="M545,598 C542.5,599 542.6,601 542.6,602 C542.6,605 546.5,606.6 552,606.6 C557.5,606.6 561.4,605 561.4,602 C561.4,600 560,598.5 558,597.6"/>
</g>
<g id="axis" stroke="#333" stroke-width="0.7" fill="none">
<path d="M552.6,515.5 L552.6,529.5 M552.6,540 L552.6,557.5 M552.6,585.7 L552.6,597 M552.6,614 L552.6,640 L552.6,650.5 M552.6,656.6 L552.6,665 M552.6,670.6 L552.6,716.1"/>
</g>
</svg>
</body></html>
